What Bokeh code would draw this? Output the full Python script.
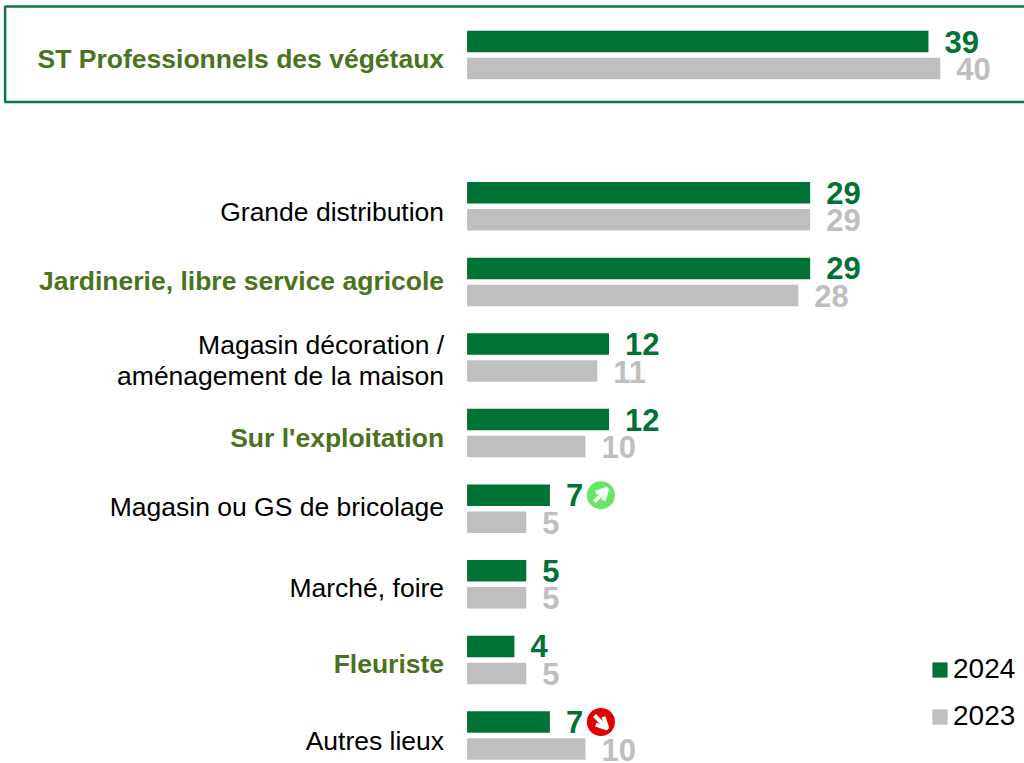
from bokeh.plotting import figure
from bokeh.models import ColumnDataSource, Range1d, BoxAnnotation, Arrow, OpenHead, Legend, LegendItem
from bokeh.core.properties import value
from bokeh.embed import file_html
from bokeh.resources import INLINE

# ---- data ----
categories = ["ST Professionnels des végétaux", "Grande distribution",
              "Jardinerie, libre service agricole",
              "Magasin décoration /\naménagement de la maison", "Sur l'exploitation",
              "Magasin ou GS de bricolage", "Marché, foire", "Fleuriste", "Autres lieux"]
row_index = [0, 2, 3, 4, 5, 6, 7, 8, 9]
values_2024 = [39, 29, 29, 12, 12, 7, 5, 4, 7]
values_2023 = [40, 29, 28, 11, 10, 5, 5, 5, 10]
highlighted = [True, False, True, False, True, False, False, True, False]
trend = [None, None, None, None, None, "up", None, None, "down"]

# ---- style ----
W, H = 1024, 763
ZERO_X, PX_PER_UNIT = 466.6, 11.83
ROW0_Y, ROW_PITCH = 54.6, 75.6
GREEN, GREY, LABEL_GREEN = "#007236", "#BFBFBF", "#4A7321"
FONT = value("Liberation Sans")
label_dy = [4, 6, -1, 3, 5, -2, 4, 4, 5]

BAR_H = 21.5 / ROW_PITCH
BAR_OFF = 13.5 / ROW_PITCH

p = figure(width=W, height=H, output_backend="svg", toolbar_location=None,
           x_range=Range1d(-ZERO_X / PX_PER_UNIT, (W - ZERO_X) / PX_PER_UNIT),
           y_range=Range1d((H - ROW0_Y) / ROW_PITCH, -ROW0_Y / ROW_PITCH),
           min_border=0, outline_line_color=None)
p.axis.visible = False
p.grid.visible = False

p.add_layout(BoxAnnotation(left=4.6, right=W + 20, top=6, bottom=101.5,
                           left_units="canvas", right_units="canvas",
                           top_units="canvas", bottom_units="canvas",
                           fill_alpha=0, line_color="#0A7A40", line_alpha=1, line_width=2.5))

src = ColumnDataSource(dict(
    cat=categories,
    y=row_index,
    y24=[r - BAR_OFF for r in row_index],
    y23=[r + BAR_OFF for r in row_index],
    v24=values_2024,
    v23=values_2023,
    t24=[str(v) for v in values_2024],
    t23=[str(v) for v in values_2023],
    zero=[0] * len(categories),
    dy=label_dy,
    col=[LABEL_GREEN if h else "#000000" for h in highlighted],
    weight=["bold" if h else "normal" for h in highlighted],
))

r24 = p.hbar(y="y24", left=0, right="v24", height=BAR_H, source=src, fill_color=GREEN, line_color=None)
r23 = p.hbar(y="y23", left=0, right="v23", height=BAR_H, source=src, fill_color=GREY, line_color=None)

p.text(x="zero", y="y", text="cat", source=src, x_offset=-23, y_offset="dy",
       text_align="right", text_baseline="middle", text_font=FONT, text_font_size="26.5px",
       text_color="col", text_font_style="weight", text_line_height=1.06)
p.text(x="v24", y="y24", text="t24", source=src, x_offset=16, y_offset=0,
       text_align="left", text_baseline="middle", text_font=FONT, text_font_size="31px",
       text_font_style="bold", text_color=GREEN)
p.text(x="v23", y="y23", text="t23", source=src, x_offset=16, y_offset=0.5,
       text_align="left", text_baseline="middle", text_font=FONT, text_font_size="31px",
       text_font_style="bold", text_color=GREY)

# trend icons
ICON_DX = 51 / PX_PER_UNIT
ARM_X = 6.5 / PX_PER_UNIT
ARM_Y = 6.5 / ROW_PITCH
for i, t in enumerate(trend):
    if t is None:
        continue
    cx = values_2024[i] + ICON_DX
    cy = row_index[i] - BAR_OFF
    p.scatter([cx], [cy], size=28, marker="circle",
              fill_color="#66E566" if t == "up" else "#E00000", line_color=None)
    sign = -1 if t == "up" else 1
    p.add_layout(Arrow(end=OpenHead(size=11, line_color="white", line_width=4),
                       x_start=cx - ARM_X, y_start=cy - sign * ARM_Y,
                       x_end=cx + ARM_X, y_end=cy + sign * ARM_Y,
                       line_color="white", line_width=4))

legend = Legend(items=[LegendItem(label="2024", renderers=[r24]),
                       LegendItem(label="2023", renderers=[r23])],
                location=(930, 31), orientation="vertical", background_fill_alpha=0,
                border_line_color=None, padding=0, margin=0, spacing=15,
                glyph_width=19, glyph_height=19, label_standoff=4,
                label_text_font="Liberation Sans", label_text_font_size="28px",
                label_text_color="#000000", label_height=28)
p.add_layout(legend)

html = file_html(p, INLINE).replace("</head>", "<style>html,body{margin:0;padding:0;overflow:hidden}</style></head>")
open("out.html", "w").write(html)
